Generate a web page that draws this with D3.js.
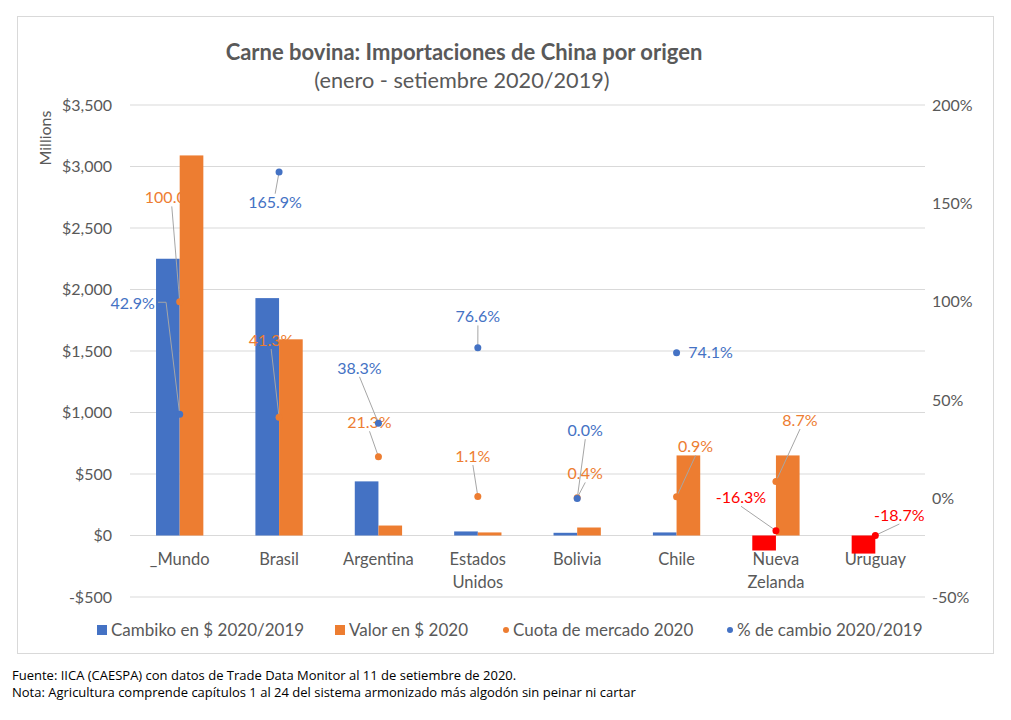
<!DOCTYPE html>
<html>
<head>
<meta charset="utf-8">
<script src="https://cdn.jsdelivr.net/npm/d3@7"></script>
<style>
  body { margin: 0; background: #fff; }
  text { font-family: Lato, "Open Sans", sans-serif; }
</style>
</head>
<body>
<svg id="chart" width="1011" height="720"></svg>
<script>
// categories and series
const categories = ["_Mundo", "Brasil", "Argentina", "Estados Unidos", "Bolivia", "Chile", "Nueva Zelanda", "Uruguay"]
const cambio = [2250, 1930, 440, 33, 22, 25, -122, -147]          // Cambiko en $ 2020/2019 (millions)
const valor = [3090, 1595, 81, 25, 65, 651, 651, 0]               // Valor en $ 2020 (millions)
const cuota = [1.0, 0.413, 0.213, 0.011, 0.004, 0.009, 0.087, null] // Cuota de mercado 2020
const pctCambio = [0.429, 1.659, 0.383, 0.766, 0.0, 0.741, -0.163, -0.187] // % de cambio 2020/2019
const leftTicks = [-500, 0, 500, 1000, 1500, 2000, 2500, 3000, 3500]
const rightTicks = [-0.5, 0, 0.5, 1.0, 1.5, 2.0]

// where each data label sits, relative to its point
const cuotaLabelShift = [[-8, -104], [-8, -77], [-9, -34], [-5, -40], [8, -24], [19, -50], [24, -61], null]
const pctLabelShift = [[-47, -111], [-4, 30], [-19, -55], [0, -31], [8, -68], [34, 0], [-35, -33], [24, -20]]

const blue = "#4472C4", orange = "#ED7D31", red = "#FF0000", grey = "#595959"

const loc = d3.formatLocale({decimal: ".", thousands: ",", grouping: [3], currency: ["$", ""], minus: "-"})
const fmtMoney = loc.format("$,")
const fmtPct0 = loc.format(".0%")
const fmtPct1 = loc.format(".1%")

const svg = d3.select("#chart")

// chart frame
svg.append("rect")
    .attr("x", 17.5).attr("y", 16.5).attr("width", 976).attr("height", 637)
    .attr("fill", "#fff").attr("stroke", "#D9D9D9")

const x = d3.scaleBand().domain(categories).range([130, 925])
const yL = d3.scaleLinear().domain([-500, 3500]).range([597, 105])
const yR = d3.scaleLinear().domain([-0.5, 2]).range([597, 105])
const xs = d3.scaleBand().domain(["cambio", "valor"]).range([0, x.bandwidth() * 0.476])
const groupOff = (x.bandwidth() - xs.range()[1]) / 2

// gridlines
svg.append("g").selectAll("line")
    .data(leftTicks)
  .enter().append("line")
    .attr("x1", 130).attr("x2", 925)
    .attr("y1", d => yL(d)).attr("y2", d => yL(d))
    .attr("stroke", "#D9D9D9").attr("stroke-width", 1)

// axes
const gl = svg.append("g").attr("transform", "translate(118,0)")
    .call(d3.axisLeft(yL).tickValues(leftTicks).tickFormat(fmtMoney).tickSize(0).tickPadding(6))
const gr = svg.append("g").attr("transform", "translate(925,0)")
    .call(d3.axisRight(yR).tickValues(rightTicks).tickFormat(fmtPct0).tickSize(0).tickPadding(7))
const gx = svg.append("g").attr("transform", "translate(0,548)")
    .call(d3.axisBottom(x).tickSize(0).tickFormat(""))
;[gl, gr, gx].forEach(g => {
  g.select(".domain").remove()
  g.selectAll("text").style("font-size", "16px").style("fill", grey)
})

// category labels, wrapped on spaces
gx.selectAll(".tick").append("text")
    .attr("text-anchor", "middle").style("font-size", "16.5px").style("fill", grey)
  .selectAll("tspan")
    .data(d => d.split(" "))
  .enter().append("tspan")
    .attr("x", 0).attr("dy", (d, i) => i ? 23 : 17)
    .text(d => d)

svg.append("text")
    .attr("transform", "translate(51,138) rotate(-90)")
    .attr("text-anchor", "middle").style("font-size", "16px").style("fill", grey)
    .text("Millions")

// bars
const bars = svg.append("g")
bars.selectAll(".cb")
    .data(cambio)
  .enter().append("rect")
    .attr("x", (d, i) => x(categories[i]) + groupOff + xs("cambio"))
    .attr("width", xs.bandwidth())
    .attr("y", d => yL(Math.max(0, d)))
    .attr("height", d => Math.abs(yL(d) - yL(0)))
    .attr("fill", d => d < 0 ? red : blue)
bars.selectAll(".vb")
    .data(valor)
  .enter().append("rect")
    .attr("x", (d, i) => x(categories[i]) + groupOff + xs("valor"))
    .attr("width", xs.bandwidth())
    .attr("y", d => yL(Math.max(0, d)))
    .attr("height", d => Math.abs(yL(d) - yL(0)))
    .attr("fill", orange)

// leader from the label box to its point, the way Excel draws them
function leaderPath(bb, cx, cy) {
  const left = bb.x, right = bb.x + bb.width, top = bb.y, bottom = bb.y + bb.height
  const midY = top + bb.height / 2
  if (cy >= top && cy <= bottom) return null            // label sits next to its point
  if (cx > right + 15) return [[right + 3, midY], [right + 11, midY], [cx, cy]]
  if (cx < left - 15) return [[left - 3, midY], [left - 11, midY], [cx, cy]]
  const sx = (left + right) / 2
  return cy > bottom ? [[sx, bottom], [cx, cy]] : [[sx, top + 2], [cx, cy]]
}

// points with labels and leader lines
function pointSeries(values, shifts, colorOf) {
  const pts = values.map((v, i) => v == null ? null : {
    v, i,
    cx: x(categories[i]) + x.bandwidth() / 2,
    cy: yR(v),
    s: shifts[i]
  }).filter(p => p)

  const g = svg.append("g")
  pts.forEach(p => {
    const tx = p.cx + p.s[0], ty = p.cy + p.s[1]
    const label = g.append("text")
        .attr("x", tx).attr("y", ty).attr("dy", "0.35em")
        .attr("text-anchor", "middle").style("font-size", "16px")
        .style("fill", colorOf(p.v))
        .text(fmtPct1(p.v))
    const path = leaderPath(label.node().getBBox(), p.cx, p.cy)
    if (path) {
      g.insert("path", "text")
          .attr("d", d3.line()(path))
          .attr("fill", "none")
          .attr("stroke", "#A6A6A6").attr("stroke-width", 1)
    }
  })
  g.selectAll("circle")
      .data(pts)
    .enter().append("circle")
      .attr("cx", p => p.cx).attr("cy", p => p.cy).attr("r", 3.5)
      .attr("fill", p => colorOf(p.v))
}

pointSeries(cuota, cuotaLabelShift, () => orange)
pointSeries(pctCambio, pctLabelShift, v => v < 0 ? red : blue)

// title
svg.append("text")
    .attr("x", 464).attr("y", 52).attr("dy", "0.35em")
    .attr("text-anchor", "middle")
    .style("font-size", "22px").style("font-weight", "bold").style("fill", grey)
    .text("Carne bovina: Importaciones de China por origen")
svg.append("text")
    .attr("x", 462).attr("y", 80).attr("dy", "0.35em")
    .attr("text-anchor", "middle")
    .style("font-size", "21.7px").style("fill", grey)
    .text("(enero - setiembre 2020/2019)")

// legend
const legendItems = [
  {name: "Cambiko en $ 2020/2019", color: blue, kind: "rect", x: 97},
  {name: "Valor en $ 2020", color: orange, kind: "rect", x: 335},
  {name: "Cuota de mercado 2020", color: orange, kind: "dot", x: 502},
  {name: "% de cambio 2020/2019", color: blue, kind: "dot", x: 726}
]
const lg = svg.append("g").attr("transform", "translate(0,630)")
  .selectAll("g").data(legendItems).enter().append("g")
    .attr("transform", d => `translate(${d.x},0)`)
lg.filter(d => d.kind === "rect").append("rect")
    .attr("x", 0).attr("y", -5).attr("width", 10).attr("height", 10)
    .attr("fill", d => d.color)
lg.filter(d => d.kind === "dot").append("circle")
    .attr("cx", 4).attr("cy", 0).attr("r", 3)
    .attr("fill", d => d.color)
lg.append("text")
    .attr("x", d => d.kind === "rect" ? 14 : 11).attr("dy", "0.35em")
    .style("font-size", "17px").style("fill", grey)
    .text(d => d.name)

// notes
const notes = [
  "Fuente: IICA (CAESPA) con datos de Trade Data Monitor al 11 de setiembre de 2020.",
  "Nota: Agricultura comprende capítulos 1 al 24 del sistema armonizado más algodón sin peinar ni cartar"
]
svg.append("g").selectAll("text")
    .data(notes)
  .enter().append("text")
    .attr("x", 12).attr("y", (d, i) => 675 + i * 17).attr("dy", "0.35em")
    .style("font-size", "13px").style("fill", "#000")
    .style("font-family", "'Liberation Sans Narrow', 'Open Sans', sans-serif")
    .text(d => d)
</script>
</body>
</html>
